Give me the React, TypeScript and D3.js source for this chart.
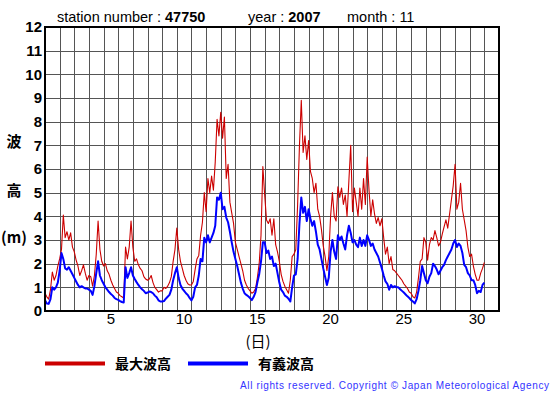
import * as d3 from 'd3'

// 3-hourly values, Nov 1 00:00 .. Nov 30 24:00
const stepsPerDay = 8
const maxWave = [
  0.75, 0.6, 0.5, 0.9, 1.65, 1.3, 1.5, 1.9,
  2.2, 2.6, 4.05, 3.1, 3.35, 3.0, 3.3, 2.7,
  2.5, 2.15, 1.9, 1.5, 1.7, 1.95, 1.6, 1.3,
  1.5, 1.45, 1.05, 1.5, 2.4, 3.8, 2.6, 2.1,
  1.9, 2.0, 1.7, 1.55, 1.3, 1.1, 0.95, 0.8,
  0.75, 0.65, 0.6, 0.55, 2.7, 2.2, 2.7, 3.8,
  2.7, 2.1, 2.2, 1.95, 1.8, 1.7, 1.45, 1.35,
  1.3, 1.35, 1.5, 1.2, 1.0, 0.9, 0.8, 0.85,
  0.85, 1.0, 0.95, 1.05, 1.2, 1.45, 2.1, 2.6,
  3.5, 2.6, 2.1, 1.8, 1.5, 1.3, 1.15, 1.1,
  1.1, 1.25, 1.75, 2.2, 2.35, 3.2, 3.75, 5.0,
  4.2, 5.6, 5.0, 5.7, 5.1, 6.3, 8.1, 7.4,
  8.4, 7.3, 8.2, 5.6, 6.2, 4.6, 4.15, 3.7,
  2.9, 2.6, 2.3, 2.0, 1.7, 1.3, 1.1, 0.95,
  0.85, 0.75, 0.8, 0.95, 1.4, 2.0, 3.2, 6.1,
  4.9, 3.85, 3.7, 3.9, 3.2, 3.9, 2.8, 2.5,
  2.1, 1.55, 1.25, 1.05, 0.9, 0.75, 1.3, 2.3,
  2.4, 2.6, 4.5, 7.0, 8.9, 6.7, 7.4, 6.4,
  7.2, 5.9, 5.6, 5.0, 5.4, 4.3, 4.0, 3.45,
  2.75, 2.3, 1.7, 2.3, 4.0, 5.0, 4.0, 3.8,
  5.25, 4.8, 5.2, 4.5, 4.9, 4.0, 5.5, 7.0,
  4.2, 5.2, 4.6, 4.0, 5.2, 4.3, 5.6, 4.5,
  6.5, 5.1, 4.0, 4.7, 4.1, 3.7, 3.95, 3.6,
  3.9, 3.1, 2.4, 2.7, 2.0, 2.3, 1.75, 1.7,
  1.6, 1.5, 1.4, 1.3, 1.15, 1.05, 0.95, 0.8,
  0.75, 0.6, 0.55, 0.8, 1.4, 2.1, 2.2, 3.1,
  2.9, 2.15, 2.8, 3.1, 3.0, 3.4, 3.1, 2.75,
  2.9, 3.25, 3.55, 3.85, 3.5, 4.1, 4.7, 5.3,
  6.2, 4.3, 4.6, 5.4, 4.3, 3.85, 3.4, 2.7,
  2.3, 2.4, 1.9, 1.55, 1.3, 1.3, 1.6, 1.8,
  2.05,
]
const sigWave = [
  0.45, 0.32, 0.3, 0.5, 1.0, 0.9, 1.0, 1.2,
  1.7, 2.45, 2.2, 1.8, 1.75, 1.85, 1.7, 1.55,
  1.4, 1.25, 1.1, 1.0, 1.05, 1.0, 0.95, 0.95,
  0.9, 0.85, 0.68, 1.05, 1.6, 2.1, 1.5, 1.3,
  1.15, 1.0, 0.9, 0.8, 0.72, 0.65, 0.55, 0.5,
  0.47, 0.42, 0.38, 0.36, 1.85, 1.4, 1.6, 1.85,
  1.5, 1.35, 1.22, 1.1, 1.0, 0.92, 0.85, 0.75,
  0.78, 0.82, 0.8, 0.75, 0.65, 0.58, 0.45, 0.4,
  0.4, 0.42, 0.52, 0.6, 0.68, 0.9, 1.3, 1.6,
  1.85, 1.4, 1.1, 0.95, 0.85, 0.75, 0.68, 0.55,
  0.45, 0.6, 1.0, 1.1, 1.5, 2.2, 2.1, 3.1,
  2.9, 3.2, 2.9, 3.1, 3.3, 3.6, 4.8, 4.7,
  5.0, 4.3, 4.4, 3.95, 3.75, 3.35, 2.9, 2.5,
  2.2, 1.9, 1.55, 1.2, 0.95, 0.75, 0.68, 0.62,
  0.55, 0.46, 0.6, 0.8, 1.2, 1.55, 2.1, 2.9,
  2.9, 2.45, 2.55, 2.2, 2.3, 1.9, 2.0, 1.6,
  1.2, 0.9, 0.8, 0.65, 0.6, 0.52, 0.4, 1.0,
  1.5, 1.55, 2.2, 3.7, 4.8, 4.15, 4.4, 3.8,
  4.3, 3.9, 3.6, 3.8, 3.35, 2.8, 2.6, 2.2,
  1.8, 1.45, 1.1, 1.4, 2.5, 3.0, 2.5, 2.2,
  3.2, 3.0, 3.15, 2.85, 2.6, 3.2, 3.6, 3.3,
  2.9, 3.0, 2.8, 2.7, 3.1, 2.75, 3.0, 2.75,
  3.2, 3.0, 2.75, 2.85, 2.6, 2.45, 2.3, 2.05,
  1.8, 1.5, 1.25, 1.15, 0.9, 1.1, 1.0, 1.05,
  1.0, 1.0, 0.92, 0.85, 0.78, 0.7, 0.62, 0.55,
  0.46, 0.4, 0.32, 0.5, 0.85, 1.3, 1.9, 1.6,
  1.3, 1.17, 1.45, 1.6, 2.0, 1.9, 1.75, 1.55,
  1.7, 1.85, 1.95, 2.15, 2.3, 2.45, 2.6, 2.85,
  3.0, 2.7, 2.85, 2.75, 2.45, 1.95, 1.85, 1.6,
  1.5, 1.3, 1.3, 1.1, 0.75, 0.85, 0.8, 1.1,
  1.2,
]
const yTicks = d3.range(0, 13)
const dayTicks = [5, 10, 15, 20, 25, 30]
const dayColumns = 31
const seriesNames = ['最大波高', '有義波高']
const seriesColors = ['#cc0000', '#0000ff']

const sans = '"Liberation Sans", Arial, Helvetica, sans-serif'
const cjk = '"Noto Sans CJK JP", sans-serif'

export default function App() {
  const width = 555
  const height = 395
  const x = d3.scaleLinear().domain([0, dayColumns]).range([45, 499])
  const y = d3.scaleLinear().domain([0, 12]).range([311, 27])
  const px = (v: number) => Math.round(v) + 0.5

  const line = d3.line<number>()
    .x((d, i) => x(i / stepsPerDay))
    .y(d => y(d))

  return (
    <svg width={width} height={height} style={{position: 'absolute', left: 0, top: 0, background: '#fff'}}>
      {/* title */}
      <text x={57} y={22} fontFamily={sans} fontSize={14.5} fill="#000">
        station number : <tspan fontWeight="bold">47750</tspan>
      </text>
      <text x={248} y={22} fontFamily={sans} fontSize={14.5} fill="#000">
        year : <tspan fontWeight="bold">2007</tspan>
      </text>
      <text x={347} y={22} fontFamily={sans} fontSize={14.5} fill="#000">month : 11</text>

      {/* grid */}
      <g stroke="#555" strokeWidth={1}>
        {d3.range(1, dayColumns).map(d => (
          <line key={'v' + d} x1={px(x(d))} x2={px(x(d))} y1={y(12)} y2={y(0)} />
        ))}
        {d3.range(1, 12).map(v => (
          <line key={'h' + v} x1={x(0)} x2={x(dayColumns)} y1={px(y(v))} y2={px(y(v))} />
        ))}
      </g>

      {/* series */}
      <path d={line(maxWave) || ''} fill="none" stroke={seriesColors[0]} strokeWidth={1.1} strokeLinejoin="round" />
      <path d={line(sigWave) || ''} fill="none" stroke={seriesColors[1]} strokeWidth={2} strokeLinejoin="round" />

      <rect x={x(0)} y={y(12)} width={x(dayColumns) - x(0)} height={y(0) - y(12)} fill="none" stroke="#000" strokeWidth={2} />

      {/* y ticks */}
      {yTicks.map(v => (
        <text key={'yt' + v} x={42} y={y(v)} dy="0.36em" textAnchor="end"
          fontFamily={sans} fontWeight="bold" fontSize={15} fill="#000">{v}</text>
      ))}
      {/* x ticks */}
      {dayTicks.map(d => (
        <text key={'xt' + d} x={x(d - 0.5)} y={324} textAnchor="middle"
          fontFamily={sans} fontSize={15} fill="#000">{d}</text>
      ))}

      {/* axis titles */}
      <text x={14} y={147} textAnchor="middle" fontFamily={cjk} fontWeight="bold" fontSize={15}>波</text>
      <text x={14} y={196} textAnchor="middle" fontFamily={cjk} fontWeight="bold" fontSize={15}>高</text>
      <text x={14} y={243} textAnchor="middle" fontFamily={cjk} fontWeight="bold" fontSize={15}>(m)</text>
      <text x={258} y={347} textAnchor="middle" fontFamily={cjk} fontSize={15}>(日)</text>

      {/* legend */}
      {seriesNames.map((name, i) => (
        <g key={name} transform={`translate(${45 + i * 143},0)`}>
          <line x1={0} x2={60} y1={363.5} y2={363.5} stroke={seriesColors[i]} strokeWidth={4} />
          <text x={70} y={369} fontFamily={cjk} fontWeight="bold" fontSize={14} fill="#000">{name}</text>
        </g>
      ))}

      <text x={240} y={389} fontFamily={sans} fontSize={10} fill="#3333ff" textLength={309} lengthAdjust="spacing">
        All rights reserved. Copyright © Japan Meteorological Agency
      </text>
    </svg>
  )
}
